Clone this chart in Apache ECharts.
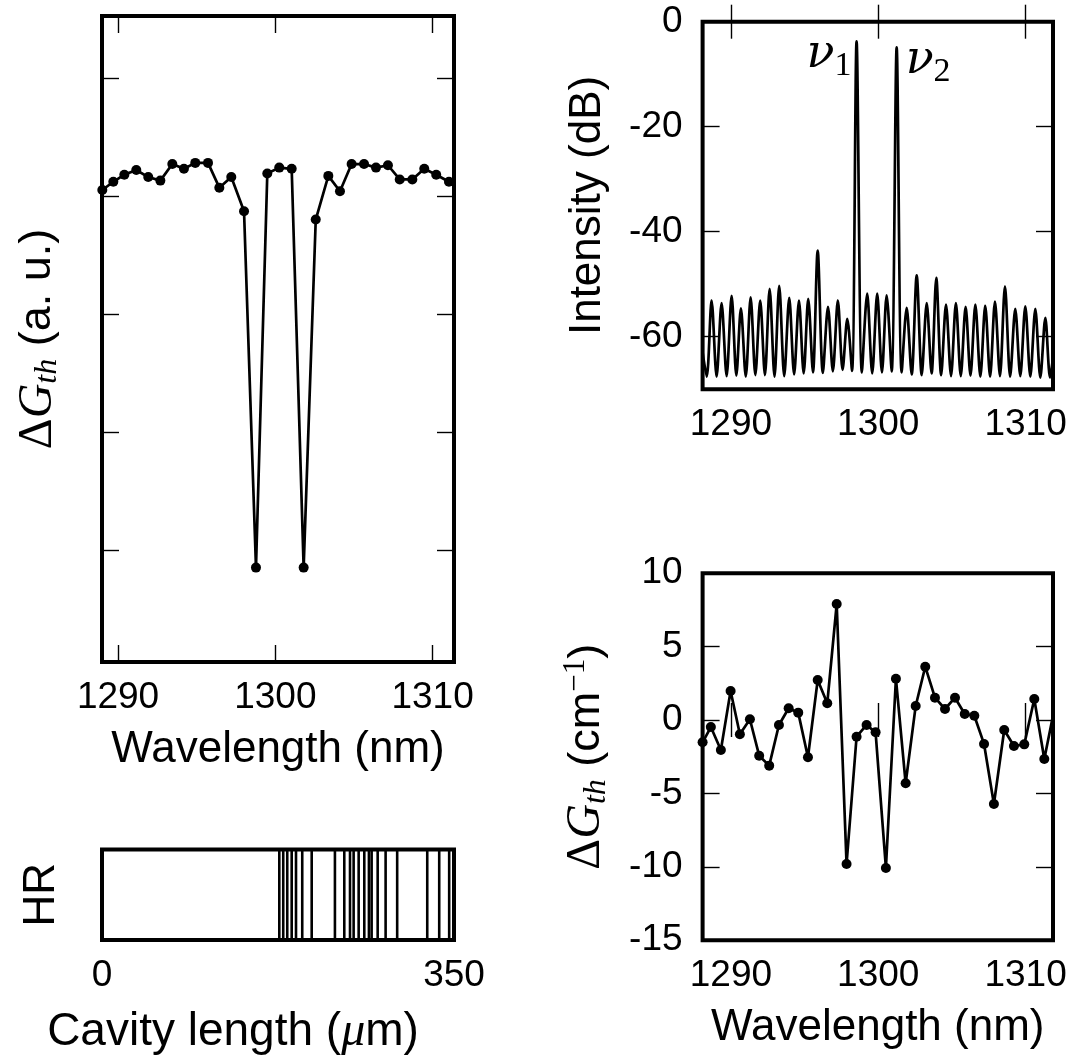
<!DOCTYPE html>
<html><head><meta charset="utf-8">
<script src="https://cdn.jsdelivr.net/npm/echarts@6/dist/echarts.min.js"></script>
<style>html,body{margin:0;padding:0;background:#fff}#c{width:1072px;height:1057px}</style>
</head><body><div id="c"></div>
<script>
// ---- data ----
// top-left: threshold gain difference vs wavelength (arbitrary units)
const tlWavelength = [1289.00,1289.70,1290.40,1291.16,1291.92,1292.69,1293.45,1294.19,1294.91,1295.72,
  1296.44,1297.20,1298.01,1298.77,1299.49,1300.25,1301.04,1301.80,1302.57,1303.37,
  1304.11,1304.85,1305.64,1306.40,1307.16,1307.91,1308.71,1309.47,1310.23,1311.04];
const tlGain = [4.05,4.12,4.18,4.22,4.16,4.13,4.27,4.23,4.28,4.28,
  4.07,4.16,3.87,0.85,4.19,4.24,4.23,0.85,3.80,4.17,
  4.04,4.27,4.27,4.24,4.26,4.14,4.14,4.23,4.18,4.12];
const tlTicks = [1, 2, 3, 4, 5];
// bottom-left: HR interface positions along cavity (µm)
const hrInterfaces = [176.3,180.2,184.2,188.6,192.9,199.1,208.5,231.6,240.9,246.6,250.2,255.2,
  260.8,265.4,268.1,274.1,282.0,293.5,323.4,335.3,345.2];
const hrTicks = [0, 350];
// top-right: optical spectrum (peaks and troughs)
const specWavelength = [1288.08,1288.36,1288.69,1289.03,1289.37,1289.71,1290.05,1290.37,1290.68,1291.01,
  1291.34,1291.66,1291.99,1292.31,1292.63,1292.96,1293.28,1293.62,1293.96,1294.29,
  1294.62,1294.94,1295.25,1295.57,1295.89,1296.24,1296.59,1296.92,1297.26,1297.58,
  1297.90,1298.22,1298.53,1298.89,1299.25,1299.59,1299.93,1300.25,1300.57,1300.91,
  1301.25,1301.59,1301.93,1302.27,1302.61,1302.95,1303.29,1303.62,1303.94,1304.27,
  1304.60,1304.94,1305.27,1305.60,1305.93,1306.26,1306.59,1306.93,1307.26,1307.59,
  1307.92,1308.26,1308.60,1308.95,1309.30,1309.64,1309.98,1310.32,1310.66,1311.00,
  1311.34,1311.66,1311.86];
const specIntensity = [-63,-67.6,-53.1,-67.6,-53.6,-67.5,-52.2,-67.4,-54.6,-67.6,
  -52.5,-67.3,-53.1,-67.3,-50.9,-67.6,-50.3,-67.5,-52.6,-67.2,
  -53.1,-67.0,-52.8,-66.8,-43.6,-66.9,-54.3,-66.6,-53.1,-66.3,
  -56.6,-66.5,-3.75,-66.8,-51.8,-67.0,-51.8,-66.8,-52.1,-66.6,
  -4.9,-66.8,-54.5,-67.2,-48.3,-67.3,-53.6,-67.0,-48.8,-67.3,
  -53.9,-67.5,-53.6,-67.5,-54.3,-67.4,-53.9,-67.6,-54.1,-67.6,
  -53.3,-67.5,-50.4,-67.6,-54.7,-67.5,-54.2,-67.6,-54.7,-67.8,
  -56.4,-67.8,-64];
const dbTicks = [-60, -40, -20, 0];
// bottom-right: threshold gain difference (cm^-1)
const brWavelength = [1288.08,1288.64,1289.32,1289.98,1290.61,1291.29,1291.92,1292.60,1293.26,1293.92,
  1294.57,1295.23,1295.89,1296.54,1297.18,1297.85,1298.53,1299.21,1299.82,1300.52,
  1301.20,1301.86,1302.54,1303.19,1303.85,1304.53,1305.21,1305.87,1306.52,1307.18,
  1307.85,1308.55,1309.21,1309.91,1310.59,1311.27,1311.88];
const brGain = [-1.52,-0.48,-2.04,1.98,-0.97,0.05,-2.43,-3.11,-0.34,0.80,
  0.50,-2.54,2.72,1.14,7.90,-9.81,-1.14,-0.34,-0.84,-10.08,
  2.81,-4.31,0.95,3.63,1.52,0.75,1.52,0.41,0.29,-1.63,
  -5.72,-0.68,-1.77,-1.66,1.43,-2.66,0.39];
const gTicks = [-15, -10, -5, 0, 5, 10];
const wlTicks = [1290, 1300, 1310];

// ---- chart ----
const BLACK = '#000';
const SANS = 'Liberation Sans';
const SERIF = 'Liberation Serif';
const tick = vals => ({show:true, inside:true, length:17, lineStyle:{color:BLACK, width:1.4}, customValues:vals});
const lbl = (vals, margin) => ({show:true, customValues:vals, margin:margin, color:BLACK, fontFamily:SANS, fontSize:37,
  formatter:v => String(v)});
const noLbl = {show:false};
const base = {type:'value', axisLine:{show:false}, splitLine:{show:false}};
const nameSans = {color:BLACK, fontFamily:SANS, fontSize:44};
const dgRich = {
  d:{fontFamily:SERIF, fontSize:48, lineHeight:52, color:BLACK},
  g:{fontFamily:SERIF, fontStyle:'italic', fontSize:48, lineHeight:52, color:BLACK},
  s:{fontFamily:SERIF, fontStyle:'italic', fontSize:32, lineHeight:22, verticalAlign:'bottom', color:BLACK},
  n:{fontFamily:SANS, fontSize:45, lineHeight:52, color:BLACK},
  p:{fontFamily:SERIF, fontSize:31, lineHeight:22, verticalAlign:'top', color:BLACK},
  m:{fontFamily:SERIF, fontStyle:'italic', fontSize:48, lineHeight:52, color:BLACK},
  c:{fontFamily:SANS, fontSize:46, lineHeight:52, color:BLACK}
};
const gridBase = {show:true, borderColor:BLACK, borderWidth:4, backgroundColor:'transparent', containLabel:false, outerBoundsMode:'none'};
const TLX = [1288.98, 1311.36];
const RX = [1288.08, 1311.86];

const nuIdx = specIntensity.map((v,i)=>v > -20 ? i : -1).filter(i=>i>=0);

const option = {
  animation:false,
  backgroundColor:'#fff',
  grid:[
    Object.assign({left:102, top:16, width:352, height:646}, gridBase),
    Object.assign({left:102, top:849.5, width:352, height:90.5}, gridBase),
    Object.assign({left:702.6, top:21.7, width:350.4, height:367.5}, gridBase),
    Object.assign({left:702.6, top:573.2, width:350.4, height:367}, gridBase)
  ],
  xAxis:[
    Object.assign({}, base, {gridIndex:0, position:'bottom', min:TLX[0], max:TLX[1], axisTick:tick(wlTicks), axisLabel:lbl(wlTicks,17),
      name:'Wavelength (nm)', nameLocation:'middle', nameGap:66, nameTextStyle:nameSans}),
    Object.assign({}, base, {gridIndex:0, position:'top', min:TLX[0], max:TLX[1], axisTick:tick(wlTicks), axisLabel:noLbl}),
    Object.assign({}, base, {gridIndex:1, position:'bottom', min:0, max:350, axisTick:{show:false}, axisLabel:lbl(hrTicks,17),
      name:'{c|Cavity length (}{m|μ}{c|m)}', nameLocation:'middle', nameGap:66,
      nameTextStyle:Object.assign({rich:dgRich, padding:[0, 90, 0, 0]}, nameSans)}),
    Object.assign({}, base, {gridIndex:2, position:'bottom', min:RX[0], max:RX[1], axisTick:tick(wlTicks), axisLabel:lbl(wlTicks,17)}),
    Object.assign({}, base, {gridIndex:2, position:'top', min:RX[0], max:RX[1], axisTick:tick(wlTicks), axisLabel:noLbl}),
    Object.assign({}, base, {gridIndex:3, position:'bottom', min:RX[0], max:RX[1], axisTick:tick(wlTicks), axisLabel:lbl(wlTicks,17),
      name:'Wavelength (nm)', nameLocation:'middle', nameGap:66, nameTextStyle:nameSans}),
    Object.assign({}, base, {gridIndex:3, position:'top', min:RX[0], max:RX[1], axisTick:tick(wlTicks), axisLabel:noLbl})
  ],
  yAxis:[
    Object.assign({}, base, {gridIndex:0, position:'left', min:0.05, max:5.525, axisTick:tick(tlTicks), axisLabel:noLbl,
      name:'{d|Δ}{g|G}{s|th}{n| (a. u.)}', nameLocation:'middle', nameGap:38, nameTextStyle:Object.assign({rich:dgRich}, nameSans)}),
    Object.assign({}, base, {gridIndex:0, position:'right', min:0.05, max:5.525, axisTick:tick(tlTicks), axisLabel:noLbl}),
    Object.assign({}, base, {gridIndex:1, position:'left', min:0, max:1, axisTick:{show:false}, axisLabel:noLbl,
      name:'HR', nameLocation:'middle', nameGap:38, nameTextStyle:nameSans}),
    Object.assign({}, base, {gridIndex:2, position:'left', min:-70, max:0, axisTick:tick(dbTicks), axisLabel:lbl(dbTicks,20),
      name:'Intensity (dB)', nameLocation:'middle', nameGap:93, nameTextStyle:nameSans}),
    Object.assign({}, base, {gridIndex:2, position:'right', min:-70, max:0, axisTick:tick(dbTicks), axisLabel:noLbl}),
    Object.assign({}, base, {gridIndex:3, position:'left', min:-15, max:10, interval:5, axisTick:tick(gTicks), axisLabel:lbl(gTicks,20),
      name:'{d|Δ}{g|G}{s|th}{n| (cm}{p|−1}{n|)}', nameLocation:'middle', nameGap:90, nameTextStyle:Object.assign({rich:dgRich}, nameSans)}),
    Object.assign({}, base, {gridIndex:3, position:'right', min:-15, max:10, interval:5, axisTick:tick(gTicks), axisLabel:noLbl})
  ],
  series:[
    {type:'line', xAxisIndex:0, yAxisIndex:0, data:tlWavelength.map((w,i)=>[w, tlGain[i]]),
      symbol:'circle', symbolSize:10, itemStyle:{color:BLACK}, lineStyle:{color:BLACK, width:2.7}, z:3},
    {type:'custom', xAxisIndex:2, yAxisIndex:2, data:hrInterfaces.map(v=>[v, 0]), encode:{x:0, y:1},
      renderItem:(params, api)=>{
        const a = api.coord([api.value(0), 0]);
        const b = api.coord([api.value(0), 1]);
        return {type:'line', shape:{x1:a[0], y1:a[1], x2:b[0], y2:b[1]}, style:{stroke:BLACK, lineWidth:2.6}};
      }},
    {type:'line', xAxisIndex:3, yAxisIndex:3, data:specWavelength.map((w,i)=>[w, specIntensity[i]]),
      showSymbol:false, symbol:'none', smooth:0.3, lineStyle:{color:BLACK, width:2.7}, z:3,
      markPoint:{silent:true, symbol:'circle', symbolSize:0,
        data:nuIdx.map((idx,k)=>({coord:[specWavelength[idx], specIntensity[idx]],
          label:{show:true, position:k===0?'left':'right', distance:k===0?5:9, offset:[0,14],
            formatter:'{v|ν}{s|'+(k+1)+'}',
            rich:{v:{fontFamily:'DejaVu Serif', fontStyle:'italic', fontSize:46, lineHeight:56, color:BLACK},
                  s:{fontFamily:SERIF, fontSize:34, lineHeight:28, verticalAlign:'bottom', color:BLACK}}}}))}},
    {type:'line', xAxisIndex:5, yAxisIndex:5, data:brWavelength.map((w,i)=>[w, brGain[i]]),
      symbol:'circle', symbolSize:10, itemStyle:{color:BLACK}, lineStyle:{color:BLACK, width:2.7}, z:3}
  ]
};
const chart = echarts.init(document.getElementById('c'), null, {renderer:'canvas'});
chart.setOption(option);
</script>
</body></html>
